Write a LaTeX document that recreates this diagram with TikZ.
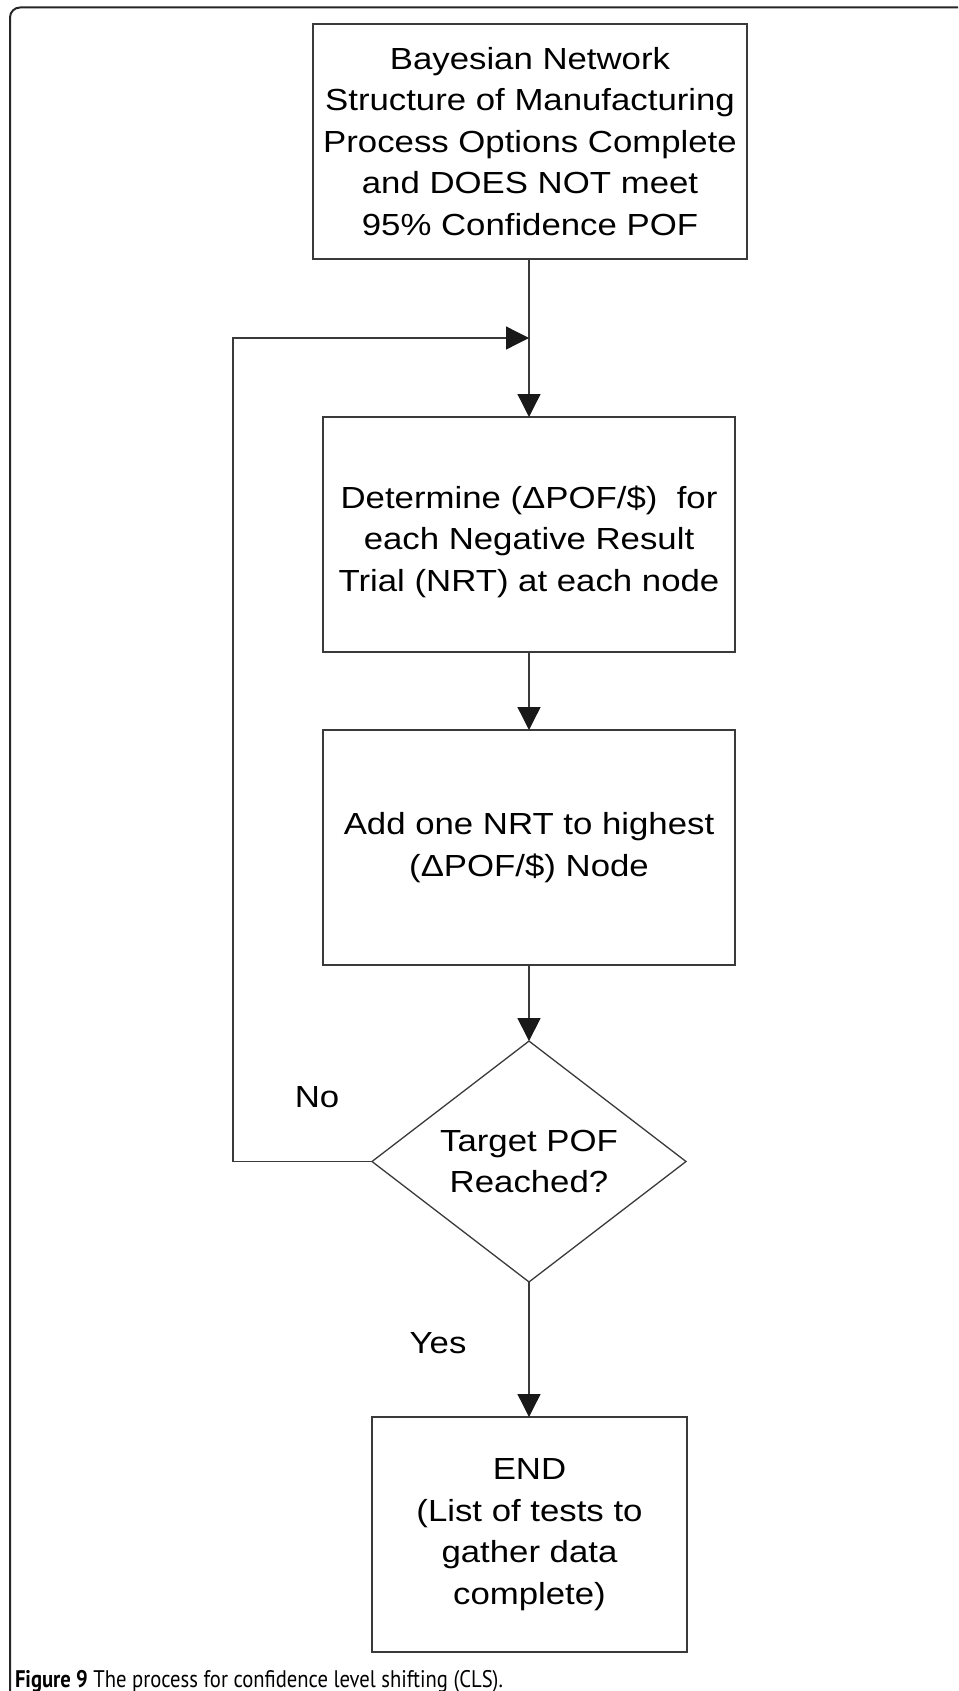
\documentclass[tikz,border=0pt]{standalone}
\usepackage{fontspec}
\usetikzlibrary{arrows.meta,shapes.geometric}
\newfontfamily\diagfont[FakeStretch=1.14]{Liberation Sans}
\newfontfamily\capfont[FakeStretch=0.86]{PT Sans}
\definecolor{edgegray}{HTML}{3A3A3A}
\begin{document}
\begin{tikzpicture}[x=1pt,y=-1pt,
  every node/.style={inner sep=0pt, outer sep=0pt},
  flowtext/.style={font=\diagfont\fontsize{30.5}{41.5}\selectfont, align=center, text=black},
  procbox/.style={draw=edgegray, line width=1.3pt, rectangle,
                  minimum width=412pt, minimum height=235pt},
  decision/.style={flowtext, draw=edgegray, line width=1.3pt, diamond,
                   minimum width=314pt, minimum height=233pt},
  flow/.style={draw=edgegray, line width=1.3pt, -{Triangle[length=23pt,width=23pt,color=black!90]}},
  label/.style={flowtext},
]
\useasboundingbox (0,0) rectangle (958,1691);
\clip (0,0) rectangle (958,1691);

% outer frame, open to the right and bottom
\draw[line width=2pt, black!85, rounded corners=10pt]
  (10,1720) -- (10,7.5) -- (990,7.5);

% process steps: boxes and their texts
\node[procbox, minimum width=434pt] (start) at (530,141.5) {};
\node[flowtext] (starttext) at (start.center)
  {Bayesian Network\\Structure of Manufacturing\\Process Options Complete\\and DOES NOT meet\\95\% Confidence POF};

\node[procbox] (determine) at (529,534.5) {};
\node[flowtext] (determinetext) at ([yshift=-7pt]determine.center)
  {Determine (ΔPOF/\$)~~for\\each Negative Result\\Trial (NRT) at each node};

\node[procbox] (addnrt) at (529,847.5) {};
\node[flowtext] (addnrttext) at (addnrt.center)
  {Add one NRT to highest\\(ΔPOF/\$) Node};

\node[decision] (check) at (529,1161.5)
  {Target POF\\Reached?};

\node[procbox, minimum width=315pt] (finish) at (529.5,1534.5) {};
\node[flowtext] (finishtext) at (finish.center)
  {END\\(List of tests to\\gather data\\complete)};

\coordinate (join) at (529,338);

% connectors
\draw[flow] (start.south -| join) -- (determine.north -| join);
\draw[flow] (determine.south -| join) -- (addnrt.north -| join);
\draw[flow] (addnrt.south -| join) -- (check.north);
\draw[flow] (check.south) -- (finish.north -| check.south);
\draw[flow] (check.west) -- (233,1161.5) -- (233,338) -- (join);

% branch labels
\node[label] (nolabel) at (317,1097) {No};
\node[label] (yeslabel) at (438,1343) {Yes};

% caption
\node[anchor=base west, font=\capfont\fontsize{24}{28}\selectfont] (caption) at (15,1687)
  {{\bfseries Figure 9} The process for confidence level shifting (CLS).};
\end{tikzpicture}
\end{document}
